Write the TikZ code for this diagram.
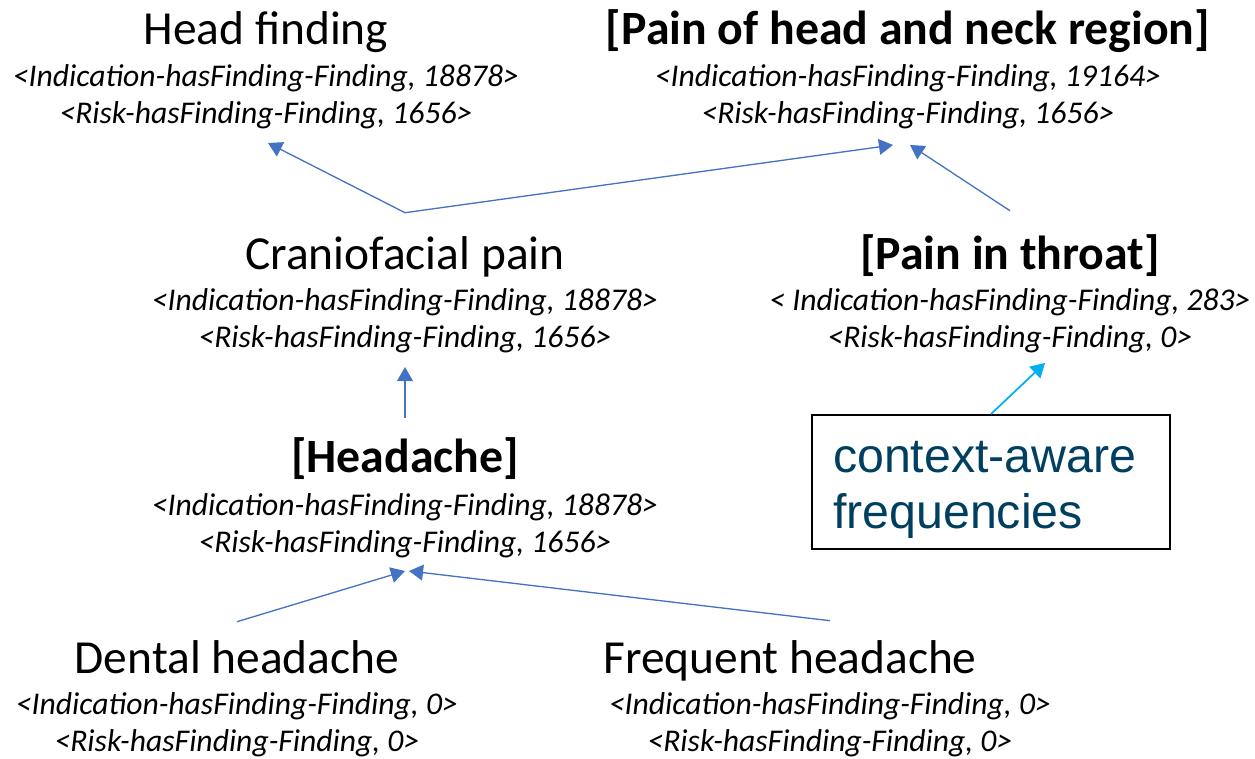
\documentclass[tikz,border=0pt]{standalone}
\usepackage{fontspec}
\setmainfont{Carlito}
\newfontfamily\boxfont{Liberation Sans}
\usetikzlibrary{positioning,calc,arrows.meta}
\definecolor{isablue}{RGB}{68,114,196}
\definecolor{ctxcyan}{RGB}{0,176,240}
\definecolor{ctxnavy}{RGB}{0,63,95}

\begin{document}
\begin{tikzpicture}[x=0.02cm,y=-0.02cm,
    term/.style={font=\fontsize{27}{32}\selectfont, inner sep=0pt, anchor=base},
    tagged/.style={term, font=\fontsize{27.2}{32}\selectfont\bfseries},
    counts/.style={font=\fontsize{18}{21}\selectfont\itshape, align=center, inner sep=0pt, anchor=north},
    isa/.style={isablue, line width=.75pt, -{Triangle[length=8pt,width=9pt]}},
    isatwo/.style={isablue, line width=.75pt, {Triangle[length=8pt,width=9pt]}-{Triangle[length=8pt,width=9pt]}}]
    \useasboundingbox (0,0) rectangle (1255,759);
    %top row
    \node[term] (hfT) at (266,45) {Head finding};
    \node[counts] (hfC) at (266,64) {<Indication-hasFinding-Finding, 18878>\\<Risk-hasFinding-Finding, 1656>};
    \node[tagged] (phT) at (908,45) {[Pain of head and neck region]};
    \node[counts] (phC) at (908,64) {<Indication-hasFinding-Finding, 19164>\\<Risk-hasFinding-Finding, 1656>};
    %second row
    \node[term] (cfT) at (405,270) {Craniofacial pain};
    \node[counts] (cfC) at (405,288) {<Indication-hasFinding-Finding, 18878>\\<Risk-hasFinding-Finding, 1656>};
    \node[tagged] (ptT) at (1010,270) {[Pain in throat]};
    \node[counts] (ptC) at (1010,288) {< Indication-hasFinding-Finding, 283>\\<Risk-hasFinding-Finding, 0>};
    %third row
    \node[tagged] (haT) at (405,473) {[Headache]};
    \node[counts] (haC) at (405,493) {<Indication-hasFinding-Finding, 18878>\\<Risk-hasFinding-Finding, 1656>};
    \node[draw, line width=1.1pt, minimum width=7.16cm, minimum height=2.68cm, text width=6.32cm,
          inner sep=0.42cm, align=left, text=ctxnavy,
          font=\boxfont\fontsize{27.5}{31.5}\selectfont] (ctx) at (991,482) {context-aware\\frequencies\par\vspace*{-0.32cm}};
    %bottom row
    \node[term] (dhT) at (237,674) {Dental headache};
    \node[counts] (dhC) at (237,692) {<Indication-hasFinding-Finding, 0>\\<Risk-hasFinding-Finding, 0>};
    \node[term] (fhT) at (790,674) {Frequent headache};
    \node[counts] (fhC) at (830,692) {<Indication-hasFinding-Finding, 0>\\<Risk-hasFinding-Finding, 0>};
    %links
    \draw[isatwo] ($(hfC.south)+(2,14)$) -- ($(cfT.north)+(0,-24)$) -- ($(phC.south)+(-15,16)$);
    \draw[isa] ($(ptT.north)+(0,-24)$) -- ($(phC.south)+(2,16)$);
    \draw[isa] ($(haT.north)+(0,-20)$) -- ($(cfC.south)+(0,14)$);
    \draw[isa] ($(dhT.north)+(0,-19)$) -- ($(haC.south)+(0,13)$);
    \draw[isa] ($(fhT.north)+(40,-20)$) -- ($(haC.south)+(4,13)$);
    \draw[ctxcyan, line width=1pt, -{Triangle[length=8pt,width=9pt]}] (ctx.north) -- ($(ptC.south)+(35,10)$);
\end{tikzpicture}
\end{document}
